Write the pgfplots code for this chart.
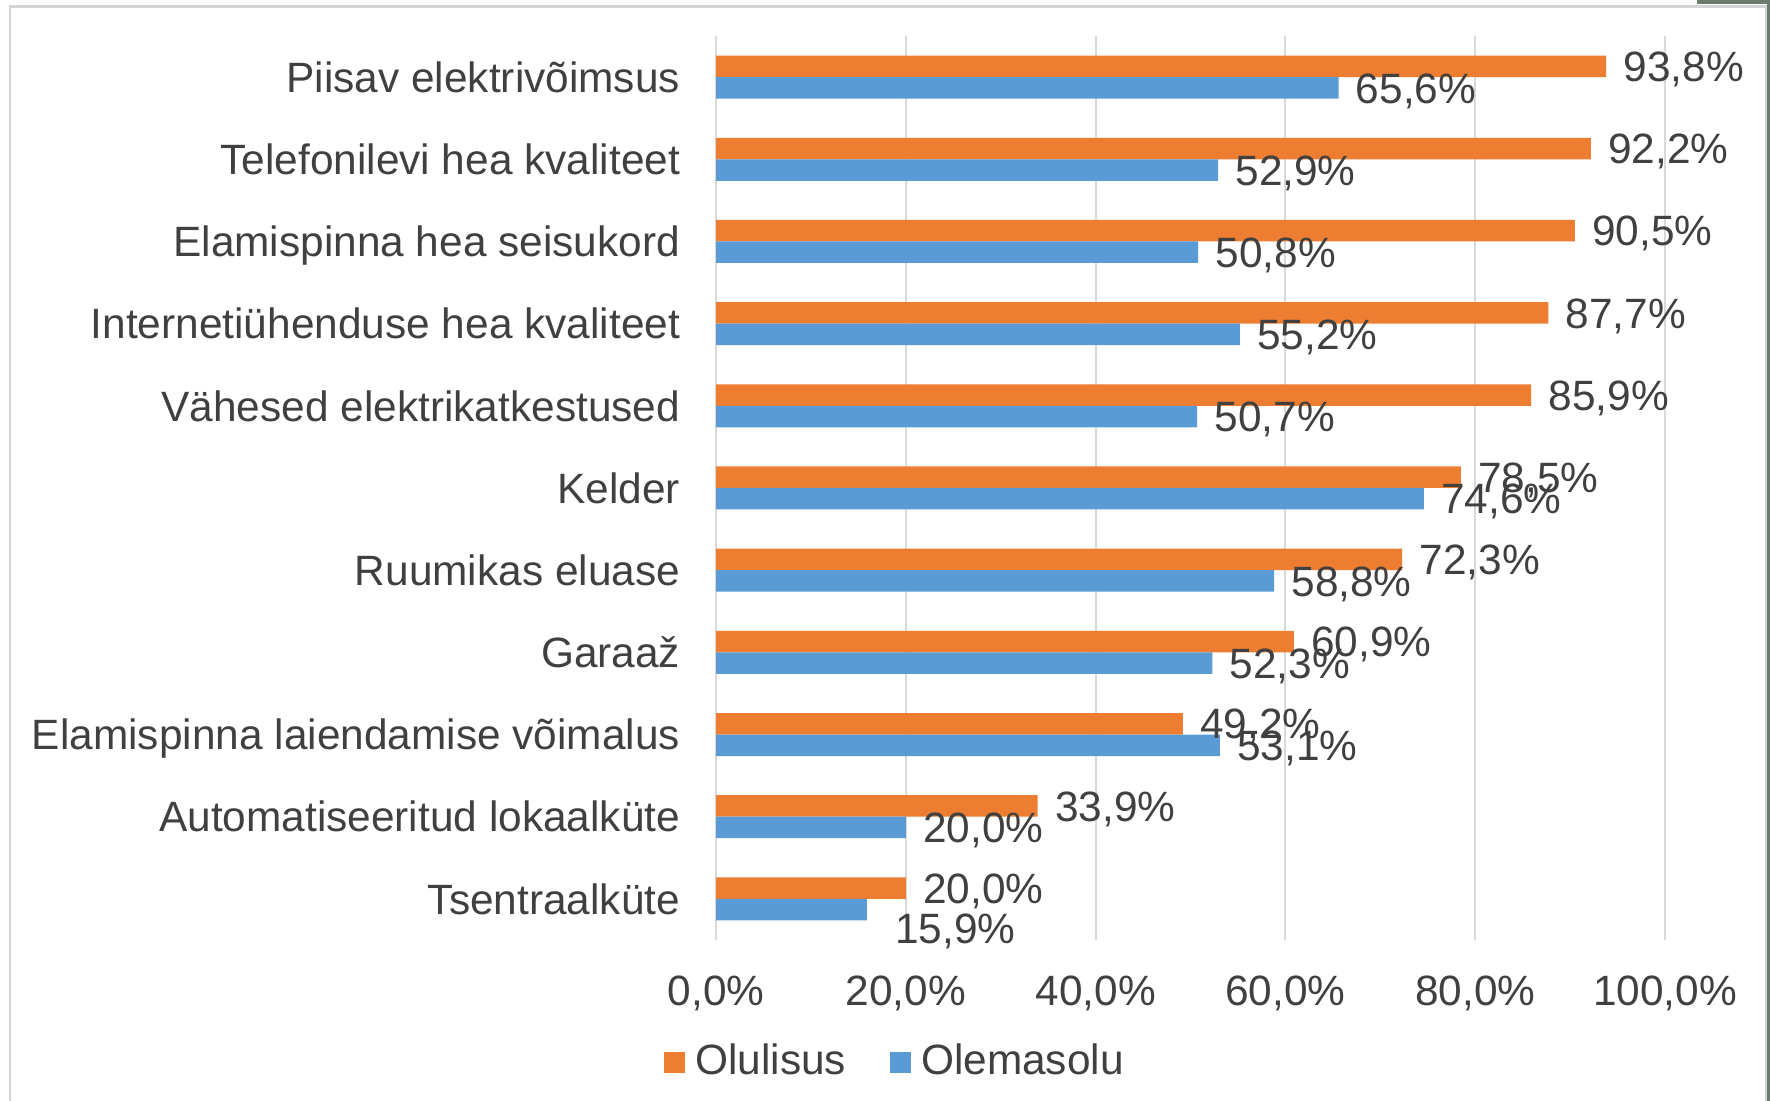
\documentclass[border=0pt]{standalone}
\usepackage{pgfplots}
\pgfplotsset{compat=1.18}
\usepackage{fontspec}
\setmainfont{Liberation Sans}
\definecolor{orng}{HTML}{ED7D31}
\definecolor{blu}{HTML}{5B9BD5}
\definecolor{txt}{HTML}{404040}
\definecolor{grd}{HTML}{D9D9D9}
\definecolor{frm}{HTML}{D4D4D4}
\definecolor{edge}{HTML}{6B7B6E}
\begin{document}
\fontsize{21.2}{25}\selectfont
\begin{tikzpicture}
\useasboundingbox (0,0) rectangle (885pt,550.5pt);
\fill[white] (0,0) rectangle (885pt,550.5pt);
\draw[frm, line width=1.2pt] (5pt,-2pt) -- (5pt,547.2pt) -- (883pt,547.2pt) -- (883pt,-2pt);
\fill[edge] (883.6pt,0) rectangle (886pt,550.5pt);
\fill[edge] (848.5pt,548.5pt) rectangle (886pt,551pt);
\begin{axis}[
  at={(358pt,80.5pt)}, anchor=south west,
  scale only axis, width=474.5pt, height=452pt,
  xbar, bar width=10.75pt,
  xmin=0, xmax=100, ymin=-0.5, ymax=10.5,
  xtick={0,20,40,60,80,100},
  ytick={0,...,10},
  yticklabels={Tsentraalküte, Automatiseeritud lokaalküte, Elamispinna laiendamise võimalus, Garaaž, Ruumikas eluase, Kelder, Vähesed elektrikatkestused, Internetiühenduse hea kvaliteet, Elamispinna hea seisukord, Telefonilevi hea kvaliteet, Piisav elektrivõimsus},
  /pgf/number format/assume math mode=true,
  xticklabel={\pgfmathprintnumber[fixed,fixed zerofill,precision=1,use comma]{\tick}\%},
  xticklabel style={anchor=base, inner sep=0pt, yshift=-32.7pt, text=txt},
  yticklabel style={anchor=base east, inner sep=0pt, xshift=-13.5pt, yshift=-7.6pt, text=txt},
  axis line style={draw=none},
  tick style={draw=none},
  xmajorgrids, grid style={draw=grd, line width=1pt},
  point meta=x,
  nodes near coords={\pgfmathprintnumber[fixed,fixed zerofill,precision=1,use comma]{\pgfplotspointmeta}\%},
  every node near coord/.append style={anchor=base west, inner sep=0pt, xshift=8.5pt, yshift=-7.6pt, text=txt},
  clip=false,
  legend columns=2,
  legend style={at={(0.1876,-0.135)}, anchor=center, draw=none, fill=none, inner sep=0pt,
    nodes={inner sep=0pt, text=txt},
    /tikz/every odd column/.append style={column sep=5pt},
    /tikz/every even column/.append style={column sep=22pt}},
  legend image code/.code={\fill[#1] (0pt,-5.25pt) rectangle (10.5pt,5.25pt);},
]
\addplot[fill=orng, draw=none, bar shift=5.375pt] coordinates {
  (93.8,10) (92.2,9) (90.5,8) (87.7,7) (85.9,6) (78.5,5) (72.3,4) (60.9,3) (49.2,2) (33.9,1) (20.0,0)};
\addlegendentry{Olulisus}
\addplot[fill=blu, draw=none, bar shift=-5.375pt,
  nodes near coords={\ifnum\coordindex=10\relax\hspace*{5.5pt}\raisebox{-9.5pt}{\pgfmathprintnumber[fixed,fixed zerofill,precision=1,use comma]{\pgfplotspointmeta}\%}\else\pgfmathprintnumber[fixed,fixed zerofill,precision=1,use comma]{\pgfplotspointmeta}\%\fi}] coordinates {
  (65.6,10) (52.9,9) (50.8,8) (55.2,7) (50.7,6) (74.6,5) (58.8,4) (52.3,3) (53.1,2) (20.0,1) (15.9,0)};
\addlegendentry{Olemasolu}
\end{axis}
\end{tikzpicture}
\end{document}
